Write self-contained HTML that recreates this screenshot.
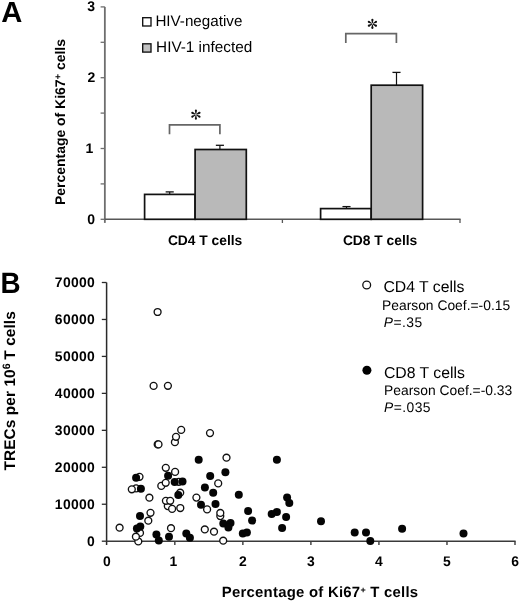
<!DOCTYPE html>
<html><head><meta charset="utf-8"><style>
html,body{margin:0;padding:0;background:#fff;}
svg{display:block;will-change:transform;}
text{font-family:"Liberation Sans", sans-serif;fill:#000;text-rendering:geometricPrecision;}
</style></head><body>
<svg width="520" height="602" viewBox="0 0 520 602">
<rect width="520" height="602" fill="#fff"/>
<text x="1.2" y="22" font-size="29.2" font-weight="bold">A</text>
<line x1="104.85" y1="6.9" x2="104.85" y2="222.9" stroke="#6e6e6e" stroke-width="1.8"/>
<line x1="100.6" y1="6.90" x2="104.85" y2="6.90" stroke="#6e6e6e" stroke-width="1.3"/>
<line x1="100.6" y1="42.30" x2="104.85" y2="42.30" stroke="#6e6e6e" stroke-width="1.3"/>
<line x1="100.6" y1="77.70" x2="104.85" y2="77.70" stroke="#6e6e6e" stroke-width="1.3"/>
<line x1="100.6" y1="113.10" x2="104.85" y2="113.10" stroke="#6e6e6e" stroke-width="1.3"/>
<line x1="100.6" y1="148.50" x2="104.85" y2="148.50" stroke="#6e6e6e" stroke-width="1.3"/>
<line x1="100.6" y1="183.90" x2="104.85" y2="183.90" stroke="#6e6e6e" stroke-width="1.3"/>
<line x1="100.6" y1="219.30" x2="104.85" y2="219.30" stroke="#6e6e6e" stroke-width="1.3"/>
<text x="95.0" y="11.20" font-size="14" font-weight="bold" text-anchor="end">3</text>
<text x="95.2" y="82.00" font-size="14" font-weight="bold" text-anchor="end">2</text>
<text x="93.2" y="152.80" font-size="14" font-weight="bold" text-anchor="end">1</text>
<text x="95.0" y="223.60" font-size="14" font-weight="bold" text-anchor="end">0</text>
<line x1="104.85" y1="219.3" x2="460.6" y2="219.3" stroke="#575757" stroke-width="1.4"/>
<line x1="282.4" y1="219.3" x2="282.4" y2="223" stroke="#575757" stroke-width="1.3"/>
<line x1="460" y1="219.3" x2="460" y2="223" stroke="#575757" stroke-width="1.3"/>
<rect x="144.6" y="194.4" width="50.50" height="24.90" fill="#fff" stroke="#111" stroke-width="1.7"/>
<rect x="195.1" y="149.5" width="51.20" height="69.80" fill="#b9b9b9" stroke="#111" stroke-width="1.7"/>
<rect x="320.6" y="208.6" width="50.60" height="10.70" fill="#fff" stroke="#111" stroke-width="1.7"/>
<rect x="371.2" y="85.2" width="51.40" height="134.10" fill="#b9b9b9" stroke="#111" stroke-width="1.7"/>
<line x1="169.7" y1="194.4" x2="169.7" y2="191.9" stroke="#111" stroke-width="1.2"/>
<line x1="165.64999999999998" y1="191.9" x2="173.75" y2="191.9" stroke="#111" stroke-width="1.3"/>
<line x1="219.9" y1="149.5" x2="219.9" y2="145.3" stroke="#111" stroke-width="1.2"/>
<line x1="215.85" y1="145.3" x2="223.95000000000002" y2="145.3" stroke="#111" stroke-width="1.3"/>
<line x1="346.5" y1="208.6" x2="346.5" y2="206.6" stroke="#111" stroke-width="1.2"/>
<line x1="342.45" y1="206.6" x2="350.55" y2="206.6" stroke="#111" stroke-width="1.3"/>
<line x1="396.5" y1="85.2" x2="396.5" y2="72.4" stroke="#111" stroke-width="1.2"/>
<line x1="392.45" y1="72.4" x2="400.55" y2="72.4" stroke="#111" stroke-width="1.3"/>
<polyline points="169.5,134.3 169.5,124.9 219.9,124.9 219.9,134.3" fill="none" stroke="#666" stroke-width="1.7"/>
<polyline points="345.8,43.1 345.8,33.6 396.4,33.6 396.4,43.1" fill="none" stroke="#666" stroke-width="1.7"/>
<polygon points="196.30,114.10 196.90,110.55 194.90,110.55 195.50,114.10" fill="#111"/>
<circle cx="195.90" cy="110.55" r="1.0" fill="#111"/>
<polygon points="195.50,115.30 194.90,118.85 196.90,118.85 196.30,115.30" fill="#111"/>
<circle cx="195.90" cy="118.85" r="1.0" fill="#111"/>
<polygon points="196.62,114.77 200.03,113.63 199.09,111.87 196.24,114.07" fill="#111"/>
<circle cx="199.56" cy="112.75" r="1.0" fill="#111"/>
<polygon points="195.56,114.07 192.71,111.87 191.77,113.63 195.18,114.77" fill="#111"/>
<circle cx="192.24" cy="112.75" r="1.0" fill="#111"/>
<polygon points="195.18,114.63 191.77,115.77 192.71,117.53 195.56,115.33" fill="#111"/>
<circle cx="192.24" cy="116.65" r="1.0" fill="#111"/>
<polygon points="196.24,115.33 199.09,117.53 200.03,115.77 196.62,114.63" fill="#111"/>
<circle cx="199.56" cy="116.65" r="1.0" fill="#111"/>
<polygon points="372.80,23.20 373.40,19.65 371.40,19.65 372.00,23.20" fill="#111"/>
<circle cx="372.40" cy="19.65" r="1.0" fill="#111"/>
<polygon points="372.00,24.40 371.40,27.95 373.40,27.95 372.80,24.40" fill="#111"/>
<circle cx="372.40" cy="27.95" r="1.0" fill="#111"/>
<polygon points="373.12,23.87 376.53,22.73 375.59,20.97 372.74,23.17" fill="#111"/>
<circle cx="376.06" cy="21.85" r="1.0" fill="#111"/>
<polygon points="372.06,23.17 369.21,20.97 368.27,22.73 371.68,23.87" fill="#111"/>
<circle cx="368.74" cy="21.85" r="1.0" fill="#111"/>
<polygon points="371.68,23.73 368.27,24.87 369.21,26.63 372.06,24.43" fill="#111"/>
<circle cx="368.74" cy="25.75" r="1.0" fill="#111"/>
<polygon points="372.74,24.43 375.59,26.63 376.53,24.87 373.12,23.73" fill="#111"/>
<circle cx="376.06" cy="25.75" r="1.0" fill="#111"/>
<rect x="142.7" y="17.7" width="8.3" height="8.3" fill="#fff" stroke="#111" stroke-width="1.35"/>
<rect x="142.7" y="43.8" width="8.3" height="8.3" fill="#c2c2c2" stroke="#111" stroke-width="1.35"/>
<text x="155.4" y="26.3" font-size="15.2">HIV-negative</text>
<text x="156.1" y="52.2" font-size="15.3">HIV-1 infected</text>
<text x="167.9" y="245.3" font-size="13.8" font-weight="bold">CD4 T cells</text>
<text x="342.9" y="245.2" font-size="13.8" font-weight="bold">CD8 T cells</text>
<text transform="translate(64.6,122) rotate(-90)" font-size="13.95" font-weight="bold" text-anchor="middle">Percentage of Ki67<tspan font-size="9.5" dy="-3.4">+</tspan><tspan dy="3.4"> cells</tspan></text>
<text transform="translate(0.4,293) scale(0.95,1)" font-size="29.3" font-weight="bold">B</text>
<line x1="106.6" y1="282.5" x2="106.6" y2="544.9" stroke="#2a2a2a" stroke-width="1.5"/>
<line x1="101.8" y1="282.50" x2="106.6" y2="282.50" stroke="#2a2a2a" stroke-width="1.3"/>
<text x="95.0" y="287.30" font-size="13.9" font-weight="bold" letter-spacing="0.3" text-anchor="end">70000</text>
<line x1="101.8" y1="319.46" x2="106.6" y2="319.46" stroke="#2a2a2a" stroke-width="1.3"/>
<text x="95.0" y="324.26" font-size="13.9" font-weight="bold" letter-spacing="0.3" text-anchor="end">60000</text>
<line x1="101.8" y1="356.41" x2="106.6" y2="356.41" stroke="#2a2a2a" stroke-width="1.3"/>
<text x="95.0" y="361.21" font-size="13.9" font-weight="bold" letter-spacing="0.3" text-anchor="end">50000</text>
<line x1="101.8" y1="393.37" x2="106.6" y2="393.37" stroke="#2a2a2a" stroke-width="1.3"/>
<text x="95.0" y="398.17" font-size="13.9" font-weight="bold" letter-spacing="0.3" text-anchor="end">40000</text>
<line x1="101.8" y1="430.33" x2="106.6" y2="430.33" stroke="#2a2a2a" stroke-width="1.3"/>
<text x="95.0" y="435.13" font-size="13.9" font-weight="bold" letter-spacing="0.3" text-anchor="end">30000</text>
<line x1="101.8" y1="467.29" x2="106.6" y2="467.29" stroke="#2a2a2a" stroke-width="1.3"/>
<text x="95.0" y="472.09" font-size="13.9" font-weight="bold" letter-spacing="0.3" text-anchor="end">20000</text>
<line x1="101.8" y1="504.24" x2="106.6" y2="504.24" stroke="#2a2a2a" stroke-width="1.3"/>
<text x="95.0" y="509.04" font-size="13.9" font-weight="bold" letter-spacing="0.3" text-anchor="end">10000</text>
<line x1="101.8" y1="541.20" x2="106.6" y2="541.20" stroke="#2a2a2a" stroke-width="1.3"/>
<text x="95.0" y="546.00" font-size="13.9" font-weight="bold" letter-spacing="0.3" text-anchor="end">0</text>
<line x1="106.6" y1="541.2" x2="515.6" y2="541.2" stroke="#3a3a3a" stroke-width="1.6"/>
<text x="106.80" y="565.6" font-size="13.9" font-weight="bold" text-anchor="middle">0</text>
<line x1="174.83" y1="541.2" x2="174.83" y2="544.9" stroke="#3a3a3a" stroke-width="1.4"/>
<text x="173.33" y="565.6" font-size="13.9" font-weight="bold" text-anchor="middle">1</text>
<line x1="242.87" y1="541.2" x2="242.87" y2="544.9" stroke="#3a3a3a" stroke-width="1.4"/>
<text x="242.87" y="565.6" font-size="13.9" font-weight="bold" text-anchor="middle">2</text>
<line x1="310.90" y1="541.2" x2="310.90" y2="544.9" stroke="#3a3a3a" stroke-width="1.4"/>
<text x="310.90" y="565.6" font-size="13.9" font-weight="bold" text-anchor="middle">3</text>
<line x1="378.93" y1="541.2" x2="378.93" y2="544.9" stroke="#3a3a3a" stroke-width="1.4"/>
<text x="378.93" y="565.6" font-size="13.9" font-weight="bold" text-anchor="middle">4</text>
<line x1="446.97" y1="541.2" x2="446.97" y2="544.9" stroke="#3a3a3a" stroke-width="1.4"/>
<text x="446.97" y="565.6" font-size="13.9" font-weight="bold" text-anchor="middle">5</text>
<line x1="515.00" y1="541.2" x2="515.00" y2="544.9" stroke="#3a3a3a" stroke-width="1.4"/>
<text x="515.00" y="565.6" font-size="13.9" font-weight="bold" text-anchor="middle">6</text>
<text x="221.8" y="596.6" font-size="14.9" letter-spacing="0.25" font-weight="bold">Percentage of Ki67<tspan font-size="9" dy="-4">+</tspan><tspan dy="4"> T cells</tspan></text>
<text transform="translate(15.4,390.8) rotate(-90)" font-size="15.4" font-weight="bold" letter-spacing="0.1" text-anchor="middle">TRECs per 10<tspan font-size="10.7" dy="-5.4">6</tspan><tspan dy="5.4" dx="-0.9"> T cells</tspan></text>
<circle cx="366.7" cy="285.0" r="3.9" fill="#fff" stroke="#111" stroke-width="1.3"/>
<text x="383.4" y="292.3" font-size="15.8">CD4 T cells</text>
<text x="382.0" y="310.1" font-size="13.85">Pearson Coef.=-0.15</text>
<text x="383.8" y="326.8" font-size="13.85" letter-spacing="0.45"><tspan font-style="italic">P</tspan>=.35</text>
<circle cx="366.9" cy="370.2" r="4.5" fill="#000"/>
<text x="383.9" y="377.6" font-size="15.8">CD8 T cells</text>
<text x="384.1" y="395.0" font-size="13.85">Pearson Coef.=-0.33</text>
<text x="384.0" y="411.7" font-size="13.85" letter-spacing="0.45"><tspan font-style="italic">P</tspan>=.035</text>
<circle cx="157.6" cy="312.0" r="3.45" fill="#fff" stroke="#111" stroke-width="1.35"/>
<circle cx="153.6" cy="385.9" r="3.45" fill="#fff" stroke="#111" stroke-width="1.35"/>
<circle cx="167.9" cy="385.8" r="3.45" fill="#fff" stroke="#111" stroke-width="1.35"/>
<circle cx="181.2" cy="429.9" r="3.45" fill="#fff" stroke="#111" stroke-width="1.35"/>
<circle cx="174.9" cy="442.2" r="3.45" fill="#fff" stroke="#111" stroke-width="1.35"/>
<circle cx="176.0" cy="436.8" r="3.45" fill="#fff" stroke="#111" stroke-width="1.35"/>
<circle cx="157.7" cy="444.4" r="3.45" fill="#fff" stroke="#111" stroke-width="1.35"/>
<circle cx="158.5" cy="444.4" r="3.45" fill="#fff" stroke="#111" stroke-width="1.35"/>
<circle cx="210.0" cy="433.1" r="3.45" fill="#fff" stroke="#111" stroke-width="1.35"/>
<circle cx="226.5" cy="457.7" r="3.45" fill="#fff" stroke="#111" stroke-width="1.35"/>
<circle cx="165.8" cy="467.8" r="3.45" fill="#fff" stroke="#111" stroke-width="1.35"/>
<circle cx="175.1" cy="471.9" r="3.45" fill="#fff" stroke="#111" stroke-width="1.35"/>
<circle cx="139.5" cy="476.8" r="3.45" fill="#fff" stroke="#111" stroke-width="1.35"/>
<circle cx="136.1" cy="488.4" r="3.45" fill="#fff" stroke="#111" stroke-width="1.35"/>
<circle cx="131.8" cy="489.3" r="3.45" fill="#fff" stroke="#111" stroke-width="1.35"/>
<circle cx="161.3" cy="485.9" r="3.45" fill="#fff" stroke="#111" stroke-width="1.35"/>
<circle cx="165.7" cy="482.8" r="3.45" fill="#fff" stroke="#111" stroke-width="1.35"/>
<circle cx="178.8" cy="481.8" r="3.45" fill="#fff" stroke="#111" stroke-width="1.35"/>
<circle cx="218.2" cy="483.4" r="3.45" fill="#fff" stroke="#111" stroke-width="1.35"/>
<circle cx="180.2" cy="492.7" r="3.45" fill="#fff" stroke="#111" stroke-width="1.35"/>
<circle cx="149.4" cy="497.7" r="3.45" fill="#fff" stroke="#111" stroke-width="1.35"/>
<circle cx="196.4" cy="497.6" r="3.45" fill="#fff" stroke="#111" stroke-width="1.35"/>
<circle cx="167.8" cy="506.1" r="3.45" fill="#fff" stroke="#111" stroke-width="1.35"/>
<circle cx="165.9" cy="500.8" r="3.45" fill="#fff" stroke="#111" stroke-width="1.35"/>
<circle cx="170.2" cy="500.8" r="3.45" fill="#fff" stroke="#111" stroke-width="1.35"/>
<circle cx="172.1" cy="508.9" r="3.45" fill="#fff" stroke="#111" stroke-width="1.35"/>
<circle cx="180.3" cy="508.0" r="3.45" fill="#fff" stroke="#111" stroke-width="1.35"/>
<circle cx="207.1" cy="509.4" r="3.45" fill="#fff" stroke="#111" stroke-width="1.35"/>
<circle cx="220.3" cy="516.1" r="3.45" fill="#fff" stroke="#111" stroke-width="1.35"/>
<circle cx="220.3" cy="512.9" r="3.45" fill="#fff" stroke="#111" stroke-width="1.35"/>
<circle cx="150.5" cy="512.8" r="3.45" fill="#fff" stroke="#111" stroke-width="1.35"/>
<circle cx="148.3" cy="520.7" r="3.45" fill="#fff" stroke="#111" stroke-width="1.35"/>
<circle cx="119.6" cy="527.7" r="3.45" fill="#fff" stroke="#111" stroke-width="1.35"/>
<circle cx="171.0" cy="528.2" r="3.45" fill="#fff" stroke="#111" stroke-width="1.35"/>
<circle cx="204.8" cy="529.4" r="3.45" fill="#fff" stroke="#111" stroke-width="1.35"/>
<circle cx="214.0" cy="531.7" r="3.45" fill="#fff" stroke="#111" stroke-width="1.35"/>
<circle cx="223.2" cy="540.7" r="3.45" fill="#fff" stroke="#111" stroke-width="1.35"/>
<circle cx="140.0" cy="532.9" r="3.45" fill="#fff" stroke="#111" stroke-width="1.35"/>
<circle cx="138.3" cy="541.4" r="3.45" fill="#fff" stroke="#111" stroke-width="1.35"/>
<circle cx="135.9" cy="536.7" r="3.45" fill="#fff" stroke="#111" stroke-width="1.35"/>
<circle cx="136.1" cy="477.8" r="4.0" fill="#050505"/>
<circle cx="140.9" cy="488.7" r="4.0" fill="#050505"/>
<circle cx="168.1" cy="475.7" r="4.0" fill="#050505"/>
<circle cx="174.7" cy="481.9" r="4.0" fill="#050505"/>
<circle cx="182.5" cy="481.6" r="4.0" fill="#050505"/>
<circle cx="178.3" cy="495.0" r="4.0" fill="#050505"/>
<circle cx="198.7" cy="459.7" r="4.0" fill="#050505"/>
<circle cx="204.9" cy="487.5" r="4.0" fill="#050505"/>
<circle cx="210.2" cy="476.1" r="4.0" fill="#050505"/>
<circle cx="225.4" cy="472.2" r="4.0" fill="#050505"/>
<circle cx="213.2" cy="492.7" r="4.0" fill="#050505"/>
<circle cx="238.8" cy="494.8" r="4.0" fill="#050505"/>
<circle cx="201.0" cy="504.7" r="4.0" fill="#050505"/>
<circle cx="215.5" cy="504.0" r="4.0" fill="#050505"/>
<circle cx="140.0" cy="515.9" r="4.0" fill="#050505"/>
<circle cx="140.3" cy="526.5" r="4.0" fill="#050505"/>
<circle cx="136.9" cy="528.5" r="4.0" fill="#050505"/>
<circle cx="156.4" cy="534.4" r="4.0" fill="#050505"/>
<circle cx="158.8" cy="540.5" r="4.0" fill="#050505"/>
<circle cx="169.0" cy="536.8" r="4.0" fill="#050505"/>
<circle cx="186.3" cy="533.5" r="4.0" fill="#050505"/>
<circle cx="189.9" cy="537.8" r="4.0" fill="#050505"/>
<circle cx="223.3" cy="523.5" r="4.0" fill="#050505"/>
<circle cx="230.5" cy="523.0" r="4.0" fill="#050505"/>
<circle cx="228.4" cy="527.5" r="4.0" fill="#050505"/>
<circle cx="248.1" cy="511.0" r="4.0" fill="#050505"/>
<circle cx="252.1" cy="520.5" r="4.0" fill="#050505"/>
<circle cx="242.8" cy="533.5" r="4.0" fill="#050505"/>
<circle cx="246.9" cy="532.5" r="4.0" fill="#050505"/>
<circle cx="276.9" cy="459.8" r="4.0" fill="#050505"/>
<circle cx="287.1" cy="497.4" r="4.0" fill="#050505"/>
<circle cx="289.3" cy="502.9" r="4.0" fill="#050505"/>
<circle cx="276.9" cy="511.9" r="4.0" fill="#050505"/>
<circle cx="271.7" cy="514.1" r="4.0" fill="#050505"/>
<circle cx="286.1" cy="517.1" r="4.0" fill="#050505"/>
<circle cx="282.1" cy="527.9" r="4.0" fill="#050505"/>
<circle cx="321.0" cy="521.3" r="4.0" fill="#050505"/>
<circle cx="354.7" cy="532.6" r="4.0" fill="#050505"/>
<circle cx="366.0" cy="532.6" r="4.0" fill="#050505"/>
<circle cx="370.3" cy="541.0" r="4.0" fill="#050505"/>
<circle cx="402.1" cy="528.7" r="4.0" fill="#050505"/>
<circle cx="463.5" cy="533.5" r="4.0" fill="#050505"/>
</svg>
</body></html>
